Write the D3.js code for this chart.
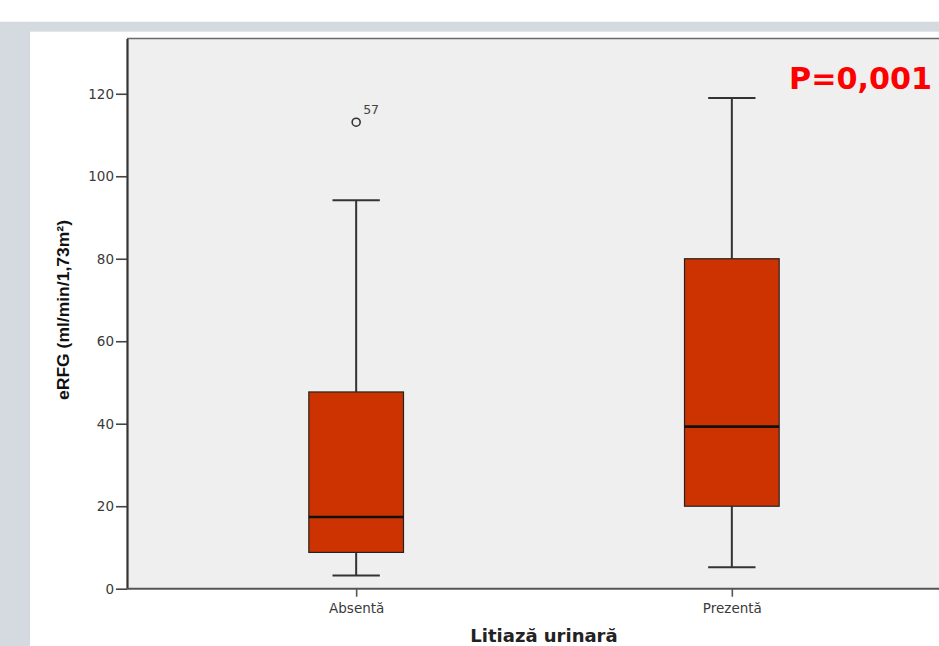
<!DOCTYPE html>
<html>
<head>
<meta charset="utf-8">
<script src="https://cdn.jsdelivr.net/npm/d3@7"></script>
<style>
  html, body { margin: 0; padding: 0; background: #ffffff; }
  svg { display: block; }
</style>
</head>
<body>
<div id="chart"></div>
<script>
// ---- data ----
const categories   = ["Absentă", "Prezentă"];
const whiskerLow   = [3.2, 5.2];
const q1           = [8.8, 20.0];
const median       = [17.4, 39.3];
const q3           = [47.7, 80.0];
const whiskerHigh  = [94.2, 119.0];
const outlierCat   = ["Absentă"];
const outlierValue = [113.1];
const outlierLabel = ["57"];
const yTicks       = [0, 20, 40, 60, 80, 100, 120];
const yTitle       = "eRFG (ml/min/1,73m²)";
const xTitle       = "Litiază urinară";
const pText        = "P=0,001";

// ---- layout ----
const W = 939, H = 646;
const plot = { left: 127, top: 38.5, right: 961, bottom: 588.7 };

const svg = d3.select("#chart").append("svg")
  .attr("width", W).attr("height", H);

// background panels
svg.append("rect").attr("x", 0).attr("y", 0).attr("width", W).attr("height", H).attr("fill", "#ffffff");
svg.append("rect").attr("x", 0).attr("y", 21.7).attr("width", W).attr("height", H - 21.7).attr("fill", "#d5dae1");
svg.append("rect").attr("x", 30).attr("y", 31.7).attr("width", W - 30).attr("height", H - 31.7).attr("fill", "#ffffff");

// scales
const y = d3.scaleLinear().domain([0, 133.4]).range([plot.bottom, plot.top]);
const x = d3.scalePoint().domain(categories).range([plot.left, plot.right]).padding(0.61);

// plot background
svg.append("rect")
  .attr("x", plot.left).attr("y", plot.top)
  .attr("width", W - plot.left).attr("height", plot.bottom - plot.top)
  .attr("fill", "#efefef");

// top frame line
svg.append("line")
  .attr("x1", plot.left).attr("x2", W)
  .attr("y1", plot.top).attr("y2", plot.top)
  .attr("stroke", "#6a6a6a").attr("stroke-width", 1.6);

const boxW = x.step() * 0.252;
const capW = boxW / 2;

const g = svg.append("g");
const rows = categories.map((c, i) => ({
  c, lo: whiskerLow[i], q1: q1[i], med: median[i], q3: q3[i], hi: whiskerHigh[i]
}));

// whiskers
g.selectAll(".wl").data(rows).join("line")
  .attr("x1", d => x(d.c)).attr("x2", d => x(d.c))
  .attr("y1", d => y(d.hi)).attr("y2", d => y(d.q3))
  .attr("stroke", "#333").attr("stroke-width", 2);
g.selectAll(".wl2").data(rows).join("line")
  .attr("x1", d => x(d.c)).attr("x2", d => x(d.c))
  .attr("y1", d => y(d.q1)).attr("y2", d => y(d.lo))
  .attr("stroke", "#333").attr("stroke-width", 2);
// caps
g.selectAll(".capH").data(rows).join("line")
  .attr("x1", d => x(d.c) - capW / 2).attr("x2", d => x(d.c) + capW / 2)
  .attr("y1", d => y(d.hi)).attr("y2", d => y(d.hi))
  .attr("stroke", "#333").attr("stroke-width", 2);
g.selectAll(".capL").data(rows).join("line")
  .attr("x1", d => x(d.c) - capW / 2).attr("x2", d => x(d.c) + capW / 2)
  .attr("y1", d => y(d.lo)).attr("y2", d => y(d.lo))
  .attr("stroke", "#333").attr("stroke-width", 2);
// boxes
g.selectAll(".box").data(rows).join("rect")
  .attr("x", d => x(d.c) - boxW / 2).attr("width", boxW)
  .attr("y", d => y(d.q3)).attr("height", d => y(d.q1) - y(d.q3))
  .attr("fill", "#cc3300").attr("stroke", "#222").attr("stroke-width", 1.2);
// medians
g.selectAll(".med").data(rows).join("line")
  .attr("x1", d => x(d.c) - boxW / 2).attr("x2", d => x(d.c) + boxW / 2)
  .attr("y1", d => y(d.med)).attr("y2", d => y(d.med))
  .attr("stroke", "#111").attr("stroke-width", 2.6);

// outliers
const outs = outlierCat.map((c, i) => ({ c, v: outlierValue[i], l: outlierLabel[i] }));
g.selectAll(".out").data(outs).join("circle")
  .attr("cx", d => x(d.c)).attr("cy", d => y(d.v)).attr("r", 4)
  .attr("fill", "none").attr("stroke", "#333").attr("stroke-width", 1.6);
g.selectAll(".outl").data(outs).join("text")
  .attr("x", d => x(d.c) + 7).attr("y", d => y(d.v) - 8)
  .attr("font-family", "DejaVu Sans").attr("font-size", 12.5).attr("fill", "#444")
  .text(d => d.l);

// y axis
const yAxis = svg.append("g")
  .attr("transform", `translate(${plot.left},0)`)
  .call(d3.axisLeft(y).tickValues(yTicks).tickSize(11).tickPadding(2).tickSizeOuter(0));
yAxis.select(".domain").attr("stroke", "#333").attr("stroke-width", 2.2);
yAxis.selectAll(".tick line").attr("stroke", "#444").attr("stroke-width", 1.6);
yAxis.selectAll(".tick text")
  .attr("font-family", "DejaVu Sans").attr("font-size", 13.5).attr("fill", "#3a3a3a");

// x axis
const xAxis = svg.append("g")
  .attr("transform", `translate(0,${plot.bottom})`)
  .call(d3.axisBottom(x).tickSize(8).tickPadding(4).tickSizeOuter(0));
xAxis.select(".domain").attr("stroke", "#555").attr("stroke-width", 2).attr("d", `M${plot.left},0H${W}`);
xAxis.selectAll(".tick line").attr("stroke", "#555").attr("stroke-width", 1.6);
xAxis.selectAll(".tick text")
  .attr("font-family", "DejaVu Sans").attr("font-size", 13.5).attr("fill", "#3a3a3a")
  .attr("dy", "0.9em");

// y title
svg.append("text")
  .attr("transform", `translate(69,310) rotate(-90)`)
  .attr("text-anchor", "middle")
  .attr("font-family", "Liberation Sans, Arial, sans-serif").attr("font-weight", "bold")
  .attr("font-size", 17).attr("fill", "#111")
  .attr("textLength", 180).attr("lengthAdjust", "spacingAndGlyphs")
  .text(yTitle);

// x title
svg.append("text")
  .attr("x", (plot.left + plot.right) / 2).attr("y", 642)
  .attr("text-anchor", "middle")
  .attr("font-family", "DejaVu Sans").attr("font-weight", "bold")
  .attr("font-size", 18).attr("fill", "#222")
  .text(xTitle);

// P value annotation
svg.append("text")
  .attr("x", 789).attr("y", 89)
  .attr("font-family", "DejaVu Sans").attr("font-weight", "bold")
  .attr("font-size", 31).attr("fill", "#ff0000")
  .attr("textLength", 143).attr("lengthAdjust", "spacingAndGlyphs")
  .text(pText);
</script>
</body>
</html>
